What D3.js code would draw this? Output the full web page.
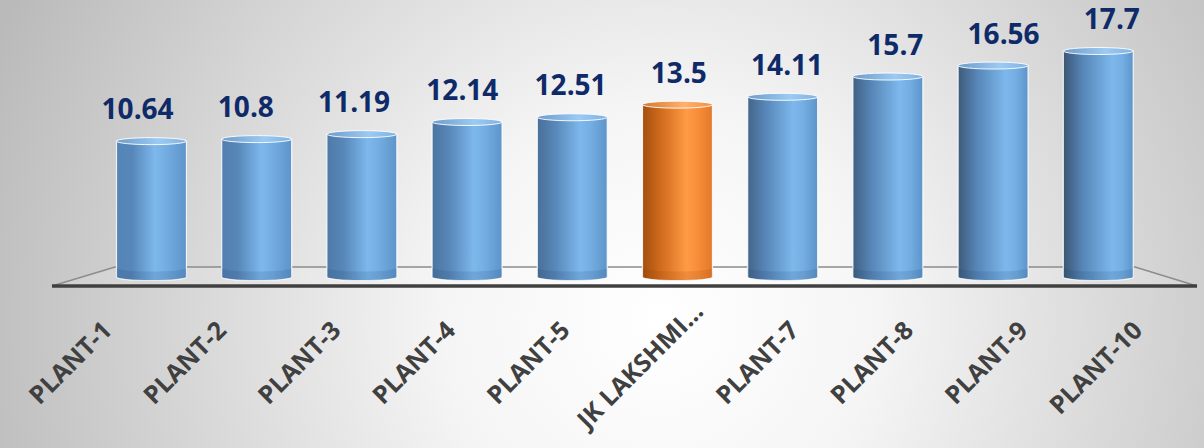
<!DOCTYPE html>
<html>
<head>
<meta charset="utf-8">
<script src="https://cdn.jsdelivr.net/npm/d3@7"></script>
<style>
  html, body { margin: 0; padding: 0; background: #fff; }
  svg { display: block; }
</style>
</head>
<body>
<div id="chart"></div>
<script>
// chart data
const categories = ['PLANT-1', 'PLANT-2', 'PLANT-3', 'PLANT-4', 'PLANT-5',
  'JK LAKSHMI...', 'PLANT-7', 'PLANT-8', 'PLANT-9', 'PLANT-10'];
const values = [10.64, 10.8, 11.19, 12.14, 12.51, 13.5, 14.11, 15.7, 16.56, 17.7];
const valueLabels = ['10.64', '10.8', '11.19', '12.14', '12.51', '13.5', '14.11', '15.7', '16.56', '17.7'];
const highlight = 'JK LAKSHMI...';

const width = 1204, height = 448;

const svg = d3.select('#chart').append('svg')
  .attr('width', width)
  .attr('height', height);

const defs = svg.append('defs');

// background: soft radial grey
const bg = defs.append('radialGradient')
  .attr('id', 'bg')
  .attr('gradientUnits', 'userSpaceOnUse')
  .attr('cx', 660).attr('cy', 320).attr('r', 720);
bg.append('stop').attr('offset', 0).attr('stop-color', '#ffffff');
bg.append('stop').attr('offset', 0.3).attr('stop-color', '#f5f5f5');
bg.append('stop').attr('offset', 1).attr('stop-color', '#bababa');

// cylinder shading; the lit side drifts right (and the left side darkens) across the chart
function cylGradient(id, stops) {
  const g = defs.append('linearGradient')
    .attr('id', id)
    .attr('x1', 0).attr('x2', 1).attr('y1', 0).attr('y2', 0);
  stops.forEach(s => g.append('stop').attr('offset', s[0]).attr('stop-color', s[1]));
}
categories.forEach((d, i) => {
  const k = i / (categories.length - 1);
  const lit = 0.55 + 0.15 * k;
  const leftBlue = d3.interpolateRgb('#5584b6', '#3b5673')(k);
  const leftOrange = d3.interpolateRgb('#b85c14', '#8f440c')(k);
  cylGradient('blueBody' + i, [[0, leftBlue], [lit * 0.4, '#5786b8'], [lit, '#7db8ec'], [lit + 0.15, '#74ade2'], [1, '#5d95cb']]);
  cylGradient('orangeBody' + i, [[0, leftOrange], [lit * 0.4, '#d06a1c'], [lit, '#ff9a45'], [lit + 0.15, '#f98e3a'], [1, '#e0792a']]);
});
cylGradient('blueTop', [[0, '#6e9ccc'], [0.6, '#9ccaf2'], [1, '#7fb2e2']]);
cylGradient('orangeTop', [[0, '#d27a30'], [0.6, '#ffb070'], [1, '#f29040']]);

svg.append('rect')
  .attr('width', width).attr('height', height)
  .attr('fill', 'url(#bg)');

// floor geometry (back edge / front edge of the 3d plane)
const backY = 267, frontY = 286;
const backX = d3.scaleBand().domain(categories).range([115, 1135]);
const frontX = d3.scaleBand().domain(categories).range([52, 1197]);
// x of a category at a given depth between back (0) and front (1)
const xAt = (d, t) => d3.interpolateNumber(
  backX(d) + backX.bandwidth() / 2,
  frontX(d) + frontX.bandwidth() / 2)(t);
const bandAt = t => d3.interpolateNumber(backX.bandwidth(), frontX.bandwidth())(t);

const barDepth = 0.256, labelDepth = 0.5;
const barW = bandAt(barDepth) * 0.665;
const rx = barW / 2, ry = 3.5;

const y = d3.scaleLinear().domain([0, 17.7]).range([277, 51]);

// floor
const floor = svg.append('g').attr('class', 'floor');
floor.append('path')
  .attr('d', `M${backX.range()[0]},${backY}L${backX.range()[1]},${backY}` +
    `L${frontX.range()[1]},${frontY}L${frontX.range()[0]},${frontY}Z`)
  .attr('fill', 'rgba(255,255,255,0.15)')
  .attr('stroke', '#8c8c8c')
  .attr('stroke-width', 1.5);

// bars
const bars = svg.append('g').attr('class', 'bars')
  .selectAll('g')
  .data(categories)
  .join('g');

bars.each(function (d, i) {
  const g = d3.select(this);
  const cx = xAt(d, barDepth);
  const x0 = cx - rx, x1 = cx + rx;
  const top = y(values[i]), base = y(0);
  const isHi = d === highlight;

  g.append('path')
    .attr('d', `M${x0},${top}L${x0},${base}A${rx},${ry} 0 0 0 ${x1},${base}L${x1},${top}Z`)
    .attr('fill', isHi ? `url(#orangeBody${i})` : `url(#blueBody${i})`)
    .attr('stroke', 'rgba(255,255,255,0.85)')
    .attr('stroke-width', 1.2);

  // darker band where the cylinder meets the floor
  g.append('path')
    .attr('d', `M${x0},${base - 9}A${rx},${ry} 0 0 0 ${x1},${base - 9}L${x1},${base}` +
      `A${rx},${ry} 0 0 1 ${x0},${base}Z`)
    .attr('fill', isHi ? 'rgba(120,50,0,0.12)' : 'rgba(20,50,90,0.12)');

  g.append('ellipse')
    .attr('cx', cx).attr('cy', top)
    .attr('rx', rx).attr('ry', ry)
    .attr('fill', isHi ? 'url(#orangeTop)' : 'url(#blueTop)')
    .attr('stroke', 'rgba(255,255,255,0.9)')
    .attr('stroke-width', 1);
});

// front edge of the floor (axis line)
svg.append('line')
  .attr('x1', frontX.range()[0]).attr('x2', frontX.range()[1])
  .attr('y1', frontY).attr('y2', frontY)
  .attr('stroke', '#404040')
  .attr('stroke-width', 3.5);

// value labels
svg.append('g').attr('class', 'values')
  .selectAll('text')
  .data(categories)
  .join('text')
  .attr('x', d => xAt(d, labelDepth))
  .attr('y', (d, i) => y(values[i]) - 22)
  .attr('text-anchor', 'middle')
  .attr('font-family', '"Open Sans", sans-serif')
  .attr('font-weight', 700)
  .attr('font-size', 28)
  .attr('fill', '#0f2a68')
  .text((d, i) => valueLabels[i]);

// category labels, rotated; long ones slide up along the diagonal to stay in view
const labelY = 332, labelBottom = 430;
svg.append('g').attr('class', 'categories')
  .selectAll('text')
  .data(categories)
  .join('text')
  .attr('text-anchor', 'end')
  .attr('font-family', '"Open Sans", sans-serif')
  .attr('font-weight', 700)
  .attr('font-size', 25)
  .attr('fill', '#404040')
  .text(d => d)
  .attr('transform', function (d) {
    const len = this.getComputedTextLength();
    const over = Math.max(0, labelY + len * Math.SQRT1_2 - labelBottom);
    const x = frontX(d) + frontX.bandwidth() / 2 + 4 + over;
    return `translate(${x},${labelY - over}) rotate(-45)`;
  });
</script>
</body>
</html>
